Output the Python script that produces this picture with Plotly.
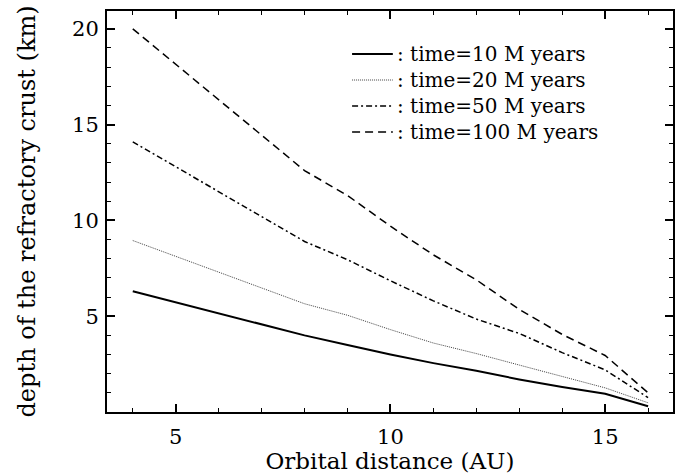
import plotly.graph_objects as go

# Orbital distance (AU)
distance = [4, 8, 9, 10, 11, 12, 13, 14, 15, 16]
# depth of refractory crust (km)
t10 = [6.3, 4.0, 3.5, 3.0, 2.55, 2.15, 1.7, 1.3, 0.95, 0.3]
t20 = [8.95, 5.65, 5.05, 4.3, 3.6, 3.05, 2.45, 1.87, 1.26, 0.48]
t50 = [14.1, 8.9, 7.95, 6.85, 5.8, 4.85, 4.1, 3.1, 2.2, 0.75]
t100 = [20.0, 12.6, 11.3, 9.7, 8.2, 6.9, 5.35, 4.05, 2.95, 1.0]

names = [": time=10 M years", ": time=20 M years", ": time=50 M years", ": time=100 M years"]
x_ticks = [5, 10, 15]
y_ticks = [5, 10, 15, 20]

FONT = "DejaVu Serif"
LEG_SIZE = 20

fig = go.Figure()
styles = [
    dict(color="black", width=2, dash="solid"),
    dict(color="#444444", width=1, dash="1px,1px"),
    dict(color="black", width=1.5, dash="6px,3px,2px,3px"),
    dict(color="black", width=1.5, dash="8px,5px"),
]
for ys, nm, st in zip([t10, t20, t50, t100], names, styles):
    fig.add_trace(go.Scatter(x=distance, y=ys, mode="lines", name=nm, line=st,
                             showlegend=False))

# manual legend (paper coordinates): one multi-line text block + line samples
plot_h = 474 - 11 - 62
leg_center = 0.7955
leg_dy = 1.3 * LEG_SIZE / plot_h
n = len(names)
for i, st in enumerate(styles):
    yy = leg_center + (1.5 - i) * leg_dy
    fig.add_shape(type="line", xref="paper", yref="paper",
                  x0=0.433, x1=0.505, y0=yy, y1=yy, line=st)
fig.add_annotation(xref="paper", yref="paper", x=0.508, y=leg_center,
                   xanchor="left", yanchor="middle", align="left", showarrow=False,
                   text="<br>".join(names),
                   font=dict(family=FONT, size=LEG_SIZE, color="black"))

axis_common = dict(
    showline=True, linecolor="black", linewidth=2, mirror="ticks",
    ticks="inside", ticklen=8, tickwidth=1.5, tickcolor="black",
    showgrid=False, zeroline=False,
    tickfont=dict(family=FONT, size=21, color="black"),
    minor=dict(ticks="inside", ticklen=4, tickwidth=1, tickcolor="black", dtick=1, showgrid=False),
)

fig.update_layout(
    width=683, height=474,
    margin=dict(l=107, r=8, t=11, b=62),
    paper_bgcolor="white", plot_bgcolor="white",
    showlegend=False,
    xaxis=dict(range=[3.4, 16.58], tickvals=x_ticks, ticklabelstandoff=5,
               title=dict(text="Orbital distance (AU)", standoff=0,
                          font=dict(family=FONT, size=23, color="black")),
               **axis_common),
    yaxis=dict(range=[0, 20.93], tickvals=y_ticks, ticklabelstandoff=2,
               title=dict(text="depth of the refractory crust (km)", standoff=30,
                          font=dict(family=FONT, size=24, color="black")),
               **axis_common),
)

fig.write_html("out.html")
